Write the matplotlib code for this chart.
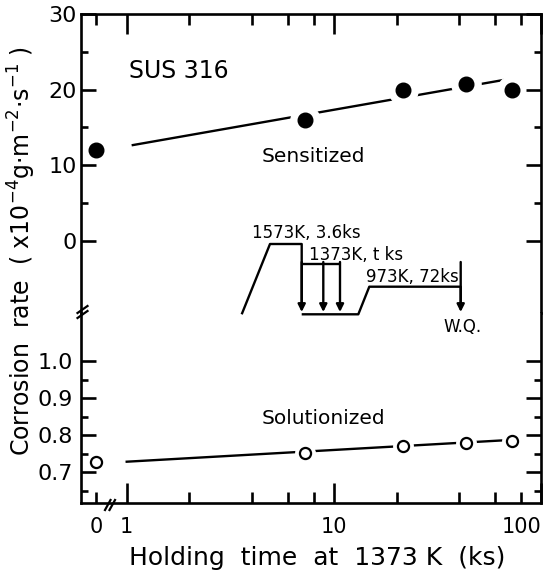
import numpy as np
import matplotlib
matplotlib.use("Agg")
import matplotlib.pyplot as plt
from matplotlib.ticker import FixedLocator, FixedFormatter, NullFormatter

# ---------------- data ----------------
hold_time_ks = [0, 7.2, 21.6, 43.2, 72]
sensitized_rate = [12.0, 16.0, 20.0, 20.7, 20.0]        # x1e-4 g m^-2 s^-1
solutionized_rate = [0.727, 0.753, 0.771, 0.780, 0.785]

# fitted trend lines: rate = a + b*log10(t)
sens_fit = (12.51, 4.82)
sens_fit_range = (1.07, 69.0)
sol_fit = (0.7286, 0.0317)
sol_fit_range = (1.0, 69.0)

x_major_ticks = [1, 10, 100]
x_major_labels = ["1", "10", ""]
x_last_label = "100"
x_minor_ticks = [2, 4, 6, 8, 20, 40, 60, 80]
upper_major = [0, 10, 20, 30]
upper_minor = [5, 15, 25]
lower_major = [0.7, 0.8, 0.9, 1.0]
lower_major_labels = ["0.7", "0.8", "0.9", "1.0"]
lower_minor = [0.65, 0.75, 0.85, 0.95]

ZERO_POS = 0.71          # where t = 0 is drawn on the log axis
XLIM = (0.602, 100)
UPPER_YLIM = (-9.57, 30)
LOWER_YLIM = (0.6173, 1.1294)

# heat-treatment schematic (figure pixel coordinates, y downward)
sch_main = [(241.7, 314.3), (270, 244), (301.7, 244), (301.7, 306)]
sch_plateau_1373 = [(301.7, 264), (340, 264)]
sch_bottom = [(301.7, 314.3), (358.3, 314.3), (369.3, 286.7), (460.7, 286.7), (460.7, 306)]
sch_arrows_x = [301.7, 323.3, 340, 460.7]
sch_arrow_tip = 312
sch_labels = [("1573K, 3.6ks", 252, 237.5), ("1373K, t ks", 309, 260.5),
              ("973K, 72ks", 366, 282), ("W.Q.", 443, 332)]

W, H = 550, 577
fig = plt.figure(figsize=(5.5, 5.77), dpi=100)
plt.rcParams['font.family'] = ['DejaVu Sans']

L = 81 / W
R = 541.5 / W
T = 1 - 14 / H
B = 1 - 503 / H
BR = 1 - 313 / H

ax_up = fig.add_axes([L, BR, R - L, T - BR])
ax_lo = fig.add_axes([L, B, R - L, BR - B])

SPW = 1.9
for ax in (ax_up, ax_lo):
    ax.set_xscale('log')
    ax.set_xlim(*XLIM)
    for s in ax.spines.values():
        s.set_linewidth(SPW)
    ax.xaxis.set_major_locator(FixedLocator(x_major_ticks))
    ax.xaxis.set_minor_locator(FixedLocator([ZERO_POS] + x_minor_ticks))
    ax.tick_params(which='both', direction='in', width=SPW, left=True, right=True)
    ax.tick_params(axis='y', which='major', length=11, labelsize=16)
    ax.tick_params(axis='y', which='minor', length=5)
    ax.tick_params(axis='x', which='major', length=14.5)
    ax.tick_params(axis='x', which='minor', length=8)

ax_up.spines['bottom'].set_visible(False)
ax_lo.spines['top'].set_visible(False)
ax_up.tick_params(axis='x', which='both', bottom=False, top=True,
                  labelbottom=False, labeltop=False)
ax_lo.tick_params(axis='x', which='both', bottom=True, top=False,
                  labelbottom=True, labelsize=15, pad=10)

ax_up.set_ylim(*UPPER_YLIM)
ax_up.yaxis.set_major_locator(FixedLocator(upper_major))
ax_up.yaxis.set_minor_locator(FixedLocator(upper_minor))
ax_up.tick_params(axis='y', which='major', pad=3)
ax_up.xaxis.set_major_formatter(NullFormatter())
ax_up.xaxis.set_minor_formatter(NullFormatter())

ax_lo.set_ylim(*LOWER_YLIM)
ax_lo.yaxis.set_major_locator(FixedLocator(lower_major))
ax_lo.yaxis.set_major_formatter(FixedFormatter(lower_major_labels))
ax_lo.yaxis.set_minor_locator(FixedLocator(lower_minor))
ax_lo.tick_params(axis='y', which='major', pad=6)
ax_lo.xaxis.set_major_formatter(FixedFormatter(x_major_labels))
ax_lo.xaxis.set_minor_formatter(FixedFormatter(["0"] + [""] * len(x_minor_ticks)))
ax_lo.tick_params(axis='x', which='minor', labelsize=15, pad=10)

# "100" label ends at the right edge of the axis
fig.text(R, B - 10 / 72 * 100 / H, x_last_label, fontsize=15, ha='right', va='top')

# plot positions (t=0 drawn at ZERO_POS)
xpos = [ZERO_POS if t == 0 else t for t in hold_time_ks]

# sensitized
xs = np.logspace(np.log10(sens_fit_range[0]), np.log10(sens_fit_range[1]), 100)
ax_up.plot(xs, sens_fit[0] + sens_fit[1] * np.log10(xs), color='black', lw=1.7, zorder=1)
ax_up.plot(xpos[1:], sensitized_rate[1:], ls='none', marker='o', ms=21, mfc='white', mec='white', zorder=1.5)
ax_up.plot(xpos, sensitized_rate, ls='none', marker='o', ms=10.5, mfc='black', mec='black', zorder=4)

# solutionized
xs2 = np.logspace(np.log10(sol_fit_range[0]), np.log10(sol_fit_range[1]), 100)
ax_lo.plot(xs2, sol_fit[0] + sol_fit[1] * np.log10(xs2), color='black', lw=1.7, zorder=1)
ax_lo.plot(xpos[1:], solutionized_rate[1:], ls='none', marker='o', ms=14, mfc='white', mec='white', zorder=1.5)
ax_lo.plot(xpos, solutionized_rate, ls='none', marker='o', ms=8, mfc='white', mec='black', mew=1.6, zorder=4)

# texts
ax_up.text(1.78, 22.4, "SUS 316", fontsize=17, ha='center', va='center')
ax_up.text(7.96, 11.2, "Sensitized", fontsize=14.5, ha='center', va='center')
ax_lo.text(8.84, 0.846, "Solutionized", fontsize=14.5, ha='center', va='center')

fig.text(22 / W, 1 - 251 / H,
         "Corrosion  rate  ( x10$^{-4}$g$\\cdot$m$^{-2}$$\\cdot$s$^{-1}$ )",
         rotation=90, ha='center', va='center', fontsize=17)
fig.text(317.5 / W, 1 - 558 / H, "Holding  time  at  1373 K  (ks)",
         ha='center', va='center', fontsize=18)

# overlay in pixel coordinates for schematic and break marks
ov = fig.add_axes([0, 0, 1, 1], zorder=10)
ov.set_xlim(0, W)
ov.set_ylim(H, 0)
ov.axis('off')
ov.patch.set_alpha(0)
lw_s = 1.7
for path in (sch_main, sch_plateau_1373, sch_bottom):
    px, py = zip(*path)
    ov.plot(px, py, color='black', lw=lw_s, solid_capstyle='butt')
for xa in sch_arrows_x:
    ov.annotate("", xy=(xa, sch_arrow_tip), xytext=(xa, 262),
                arrowprops=dict(arrowstyle='-|>', color='black', lw=lw_s,
                                mutation_scale=11, shrinkA=0, shrinkB=0))
for txt, tx, ty in sch_labels:
    ov.text(tx, ty, txt, fontsize=12, ha='left', va='baseline')

# axis break marks
for dy in (0, 5):
    ov.plot([77.5, 87.5], [313 + dy, 306 + dy], color='black', lw=1.6)
for dx in (0, 4.5):
    ov.plot([105 + dx, 110.5 + dx], [510, 500], color='black', lw=1.6)

fig.savefig("out.png", dpi=100)
